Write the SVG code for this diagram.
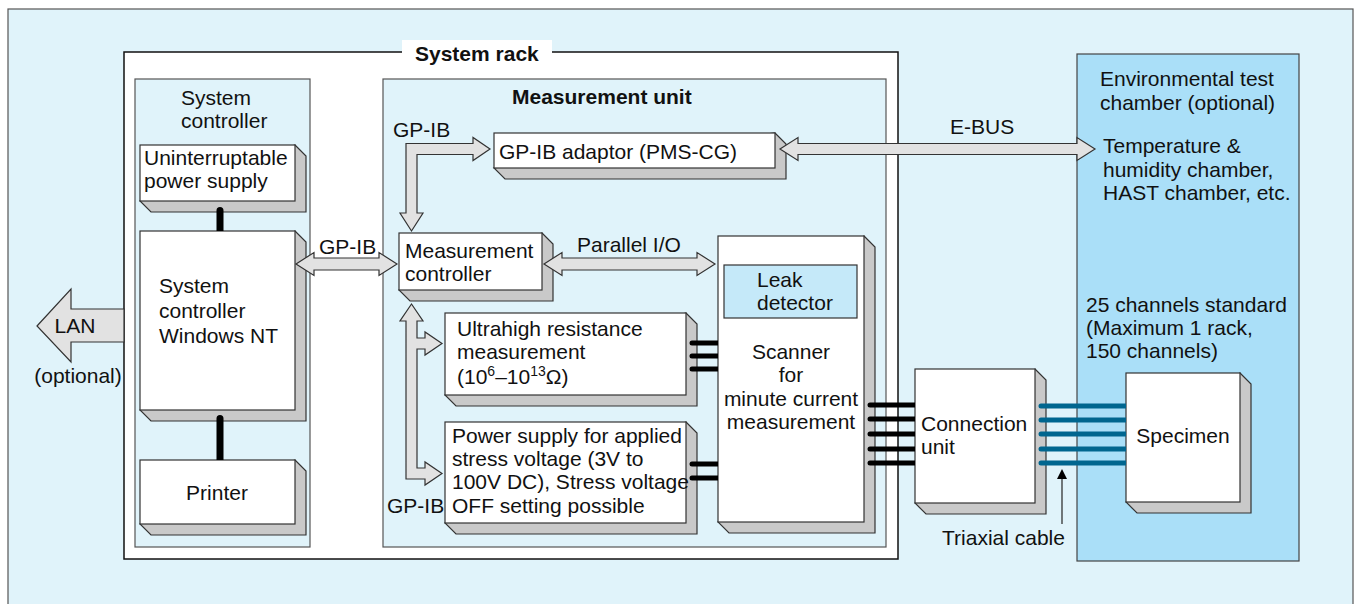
<svg xmlns="http://www.w3.org/2000/svg" width="1359" height="604" viewBox="0 0 1359 604">
<defs>
<style>
text{font-family:"Liberation Sans",Arial,sans-serif;font-size:21px;fill:#111}
.b{font-weight:bold}
.c{text-anchor:middle}
.panel{fill:#e0f3fa;stroke:#555;stroke-width:1.2}
.front{fill:#fff;stroke:#333;stroke-width:1.2}
.shadow{fill:#c9c9c9;stroke:#333;stroke-width:1.2}
.arr{fill:#e2e2e2;stroke:#333;stroke-width:1.2;stroke-linejoin:miter}
.wire{fill:#000}
.cable{fill:#00668f}
</style>
</defs>
<rect x="8" y="9" width="1345" height="610" fill="#e0f3fa" stroke="#555" stroke-width="1.2"/>

<g id="system-rack">
<rect x="124" y="52" width="774" height="507" fill="#fff" stroke="#111" stroke-width="1.5"/>
<rect x="402" y="40" width="150" height="14" fill="#fff"/>
<text x="415" y="61" class="b">System rack</text>
</g>

<g id="system-controller-panel">
<rect x="135" y="79" width="175" height="468" class="panel"/>
<text x="181" y="105">System</text>
<text x="181" y="128">controller</text>
</g>

<g id="ups">
<polygon class="shadow" points="295,145 306,156 306,212 151,212 140,201"/>
<rect class="front" x="140" y="145" width="155" height="56"/>
<text x="144" y="165">Uninterruptable</text>
<text x="144" y="188">power supply</text>
</g>

<g id="system-controller-pc">
<polygon class="shadow" points="295,231 306,242 306,421 151,421 140,410"/>
<rect class="front" x="140" y="231" width="155" height="179"/>
<text x="159" y="293">System</text>
<text x="159" y="318">controller</text>
<text x="159" y="343">Windows NT</text>
</g>

<g id="printer">
<polygon class="shadow" points="295,460 306,471 306,535 151,535 140,524"/>
<rect class="front" x="140" y="460" width="155" height="64"/>
<text x="217" y="500" class="c">Printer</text>
</g>

<g id="measurement-unit">
<rect x="383" y="79" width="503" height="468" class="panel"/>
<text x="512" y="104" class="b">Measurement unit</text>
</g>

<g id="gpib-adaptor">
<polygon class="shadow" points="775,133 786,144 786,179 505,179 494,168"/>
<rect class="front" x="494" y="133" width="281" height="35"/>
<text x="499" y="159">GP-IB adaptor (PMS-CG)</text>
</g>

<g id="measurement-controller">
<polygon class="shadow" points="542,233 553,244 553,301 410,301 399,290"/>
<rect class="front" x="399" y="233" width="143" height="57"/>
<text x="405" y="258">Measurement</text>
<text x="405" y="281">controller</text>
</g>

<g id="ultrahigh-resistance">
<polygon class="shadow" points="686,313 697,324 697,406 456,406 445,395"/>
<rect class="front" x="445" y="313" width="241" height="82"/>
<text x="457" y="336">Ultrahigh resistance</text>
<text x="457" y="359">measurement</text>
<text x="457" y="384">(10<tspan font-size="14" dy="-8">6</tspan><tspan dy="8">–10</tspan><tspan font-size="14" dy="-8">13</tspan><tspan dy="8">Ω)</tspan></text>
</g>

<g id="power-supply">
<polygon class="shadow" points="686,422 697,433 697,534 456,534 445,523"/>
<rect class="front" x="445" y="422" width="241" height="101"/>
<text x="452" y="443">Power supply for applied</text>
<text x="452" y="466">stress voltage (3V to</text>
<text x="452" y="489">100V DC), Stress voltage</text>
<text x="452" y="513">OFF setting possible</text>
</g>

<g id="scanner">
<polygon class="shadow" points="864,236 875,247 875,533 729,533 718,522"/>
<rect class="front" x="718" y="236" width="146" height="286"/>
<rect x="724" y="265" width="133" height="53" fill="#c5e9f9" stroke="#333" stroke-width="1.2"/>
<text x="757" y="287">Leak</text>
<text x="757" y="310">detector</text>
<text x="791" y="359" class="c">Scanner</text>
<text x="791" y="382" class="c">for</text>
<text x="791" y="406" class="c">minute current</text>
<text x="791" y="429" class="c">measurement</text>
</g>

<g id="environmental-chamber">
<rect x="1077" y="54" width="222" height="507" fill="#aadff8" stroke="#444" stroke-width="1.2"/>
<text x="1100" y="86">Environmental test</text>
<text x="1100" y="110">chamber (optional)</text>
<text x="1103" y="153">Temperature &amp;</text>
<text x="1103" y="177">humidity chamber,</text>
<text x="1103" y="200">HAST chamber, etc.</text>
<text x="1086" y="312">25 channels standard</text>
<text x="1086" y="335">(Maximum 1 rack,</text>
<text x="1086" y="358">150 channels)</text>
</g>

<g id="connection-unit">
<polygon class="shadow" points="1035,369 1046,380 1046,514 926,514 915,503"/>
<rect class="front" x="915" y="369" width="120" height="134"/>
<text x="921" y="431">Connection</text>
<text x="921" y="454">unit</text>
</g>

<g id="specimen">
<polygon class="shadow" points="1240,373 1251,384 1251,513 1137,513 1126,502"/>
<rect class="front" x="1126" y="373" width="114" height="129"/>
<text x="1183" y="443" class="c">Specimen</text>
</g>

<g id="connectors">
<!-- LAN -->
<polygon class="arr" points="37,326 71,289 71,309 124,309 124,342 71,342 71,362"/>
<text x="75" y="333" class="c">LAN</text>
<text x="78" y="383" class="c">(optional)</text>
<!-- UPS / printer links -->
<path class="wire" d="M216.5,231V210.5A3.5,3.5 0 0 1 223.5,210.5V231Z"/>
<path class="wire" d="M216.5,460V418.5A3.5,3.5 0 0 1 223.5,418.5V460Z"/>
<!-- GP-IB system controller <-> measurement controller -->
<polygon class="arr" points="296,264 314,252.5 314,258 379,258 379,252.5 397,264 379,275.5 379,270 314,270 314,275.5"/>
<text x="319" y="254">GP-IB</text>
<!-- GP-IB to adaptor -->
<polygon class="arr" points="490,149 473,160.5 473,154.5 417,154.5 417,213 423,213 411.5,231 400,213 406,213 406,143.5 473,143.5 473,137.5"/>
<text x="393" y="137">GP-IB</text>
<!-- Parallel I/O -->
<polygon class="arr" points="544,264 562,252.5 562,258 697,258 697,252.5 715,264 697,275.5 697,270 562,270 562,275.5"/>
<text x="577" y="252">Parallel I/O</text>
<!-- GP-IB bus to measurement instruments -->
<polygon class="arr" points="411.5,304 423,321 417,321 417,338 425,338 425,332 442,343.5 425,355 425,349 417,349 417,468 425,468 425,462 442,473.5 425,485 425,479 406,479 406,321 400,321"/>
<text x="387" y="513">GP-IB</text>
<!-- E-BUS -->
<polygon class="arr" points="780,149 798,137.5 798,143.5 1077,143.5 1077,137.5 1095,149 1077,160.5 1077,154.5 798,154.5 798,160.5"/>
<text x="950" y="134">E-BUS</text>
<!-- ultrahigh -> scanner -->
<path class="wire" d="M692,340.5H718V345.5H692A2.5,2.5 0 0 1 692,340.5Z"/>
<path class="wire" d="M692,353.5H718V358.5H692A2.5,2.5 0 0 1 692,353.5Z"/>
<path class="wire" d="M692,366.5H718V371.5H692A2.5,2.5 0 0 1 692,366.5Z"/>
<!-- power supply -> scanner -->
<path class="wire" d="M692,461.5H718V466.5H692A2.5,2.5 0 0 1 692,461.5Z"/>
<path class="wire" d="M692,475.5H718V480.5H692A2.5,2.5 0 0 1 692,475.5Z"/>
<!-- scanner -> connection unit -->
<path class="wire" d="M870,402.5H915V407.5H870A2.5,2.5 0 0 1 870,402.5Z"/>
<path class="wire" d="M870,416.5H915V421.5H870A2.5,2.5 0 0 1 870,416.5Z"/>
<path class="wire" d="M870,431.5H915V436.5H870A2.5,2.5 0 0 1 870,431.5Z"/>
<path class="wire" d="M870,446.5H915V451.5H870A2.5,2.5 0 0 1 870,446.5Z"/>
<path class="wire" d="M870,460.5H915V465.5H870A2.5,2.5 0 0 1 870,460.5Z"/>
<!-- connection unit -> specimen (triaxial cables) -->
<path class="cable" d="M1041,403.5H1126V408.5H1041A2.5,2.5 0 0 1 1041,403.5Z"/>
<path class="cable" d="M1041,417.5H1126V422.5H1041A2.5,2.5 0 0 1 1041,417.5Z"/>
<path class="cable" d="M1041,431.5H1126V436.5H1041A2.5,2.5 0 0 1 1041,431.5Z"/>
<path class="cable" d="M1041,446.5H1126V451.5H1041A2.5,2.5 0 0 1 1041,446.5Z"/>
<path class="cable" d="M1041,460.5H1126V465.5H1041A2.5,2.5 0 0 1 1041,460.5Z"/>
<!-- triaxial cable pointer -->
<line x1="1062" y1="524" x2="1062" y2="477" stroke="#333" stroke-width="1.3"/>
<polygon points="1062,469 1057,479 1067,479" fill="#000"/>
<text x="942" y="545">Triaxial cable</text>
</g>
</svg>
